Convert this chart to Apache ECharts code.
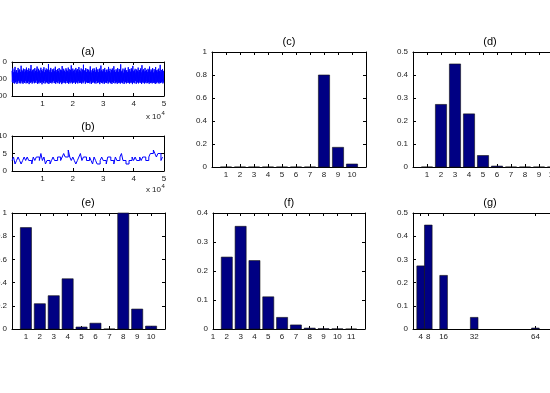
<!DOCTYPE html>
<html>
<head>
<meta charset="utf-8">
<script src="https://cdn.jsdelivr.net/npm/echarts@6/dist/echarts.min.js"></script>
<style>
html, body { margin: 0; padding: 0; background: #fff; }
#container { width: 550px; height: 393px; }
</style>
</head>
<body>
<div id="container"></div>
<script>
// (a) raw signal: alternating local peaks and troughs, one pair every 250 samples
var signalAPeaks = [52, 38, 61, 45, 29, 57, 48, 63, 35, 50, 44, 58, 22, 47, 55, 39, 60, 42, 51, 33,
  46, 59, 37, 54, 41, 18, 56, 49, 43, 62, 36, 53, 45, 27, 58, 40, 50, 64, 34, 47,
  55, 42, 31, 60, 48, 38, 52, 44, 12, 57, 46, 35, 61, 43, 50, 39, 55, 28, 47, 58,
  41, 53, 36, 62, 45, 49, 24, 56, 40, 51, 59, 37, 46, 54, 33, 60, 43, 48, 20, 57,
  39, 52, 45, 63, 35, 50, 42, 58, 30, 47, 55, 38, 61, 44, 16, 53, 48, 36, 59, 41,
  50, 45, 57, 26, 49, 62, 40, 54, 37, 46, 58, 32, 51, 43, 60, 39, 55, 21, 48, 56,
  42, 50, 35, 61, 47, 44, 57, 29, 53, 40, 62, 46, 38, 55, 25, 49, 59, 43, 52, 36,
  58, 41, 47, 14, 56, 50, 39, 63, 45, 34, 54, 48, 60, 31, 51, 42, 57, 37, 46, 23,
  55, 49, 40, 62, 44, 52, 33, 58, 47, 38, 61, 19, 50, 43, 56, 35, 53, 46, 59, 40,
  48, 27, 57, 44, 51, 36, 62, 42, 55, 30, 49, 58, 45, 39, 54, 17, 60, 47, 41, 52]
var signalATroughs = [118, 124, 112, 127, 120, 115, 129, 121, 110, 125, 119, 126, 113, 122, 128, 117, 123, 111, 126, 120,
  124, 114, 130, 119, 122, 116, 127, 121, 113, 125, 118, 123, 109, 128, 120, 126, 115, 122, 119, 131,
  117, 124, 112, 127, 121, 118, 125, 114, 129, 120, 123, 116, 126, 119, 111, 124, 122, 128, 117, 121,
  125, 113, 127, 120, 118, 130, 122, 115, 124, 119, 126, 112, 123, 121, 128, 117, 125, 114, 120, 127,
  119, 123, 116, 129, 121, 118, 126, 113, 124, 120, 122, 127, 115, 125, 119, 110, 128, 121, 117, 124,
  123, 118, 126, 114, 129, 120, 122, 116, 125, 119, 127, 112, 124, 121, 118, 130, 117, 123, 120, 126,
  115, 128, 122, 119, 124, 113, 127, 121, 116, 125, 120, 129, 118, 123, 111, 126, 122, 119, 128, 115,
  124, 120, 127, 117, 122, 125, 114, 129, 121, 118, 126, 113, 123, 120, 127, 116, 124, 119, 130, 122,
  117, 125, 112, 128, 121, 119, 126, 115, 123, 120, 129, 118, 124, 116, 127, 121, 113, 125, 122, 119,
  128, 117, 124, 120, 126, 114, 123, 121, 129, 118, 125, 116, 122, 127, 119, 124, 120, 113, 126, 121]
var stepA = 125

// (b) quantised signal, one value every 500 samples
var signalB = [3, 4, 2, 3, 4, 3, 2, 3, 4, 3, 4, 3, 3, 2, 4, 3, 4, 4, 3, 5,
  3, 4, 2, 3, 3, 2, 3, 4, 3, 3, 4, 4, 3, 4, 5, 4, 4, 6, 4, 3,
  4, 3, 2, 3, 4, 5, 3, 4, 4, 3, 3, 4, 3, 2, 4, 3, 2, 2, 3, 4,
  3, 3, 2, 4, 4, 3, 3, 2, 4, 3, 3, 4, 5, 3, 3, 2, 2, 3, 3, 4,
  3, 4, 3, 3, 4, 3, 4, 4, 3, 3, 4, 5, 5, 6, 5, 4, 5, 5, 3, 4]
var stepB = 500

var cCats = [1, 2, 3, 4, 5, 6, 7, 8, 9, 10]
var cVals = [0, 0, 0, 0, 0, 0, 0, 0.8, 0.171, 0.026]
var dCats = [1, 2, 3, 4, 5, 6, 7, 8, 9, 10]
var dVals = [0, 0.272, 0.448, 0.231, 0.05, 0.004, 0, 0, 0, 0]
var eCats = [1, 2, 3, 4, 5, 6, 7, 8, 9, 10]
var eVals = [0.874, 0.218, 0.287, 0.433, 0.017, 0.05, 0, 1.0, 0.172, 0.025]
var fCats = [2, 3, 4, 5, 6, 7, 8, 9, 10, 11]
var fVals = [0.248, 0.354, 0.236, 0.111, 0.04, 0.014, 0.003, 0.001, 0.0005, 0]
var gCats = [4, 8, 16, 32, 64]
var gVals = [0.272, 0.448, 0.231, 0.05, 0.004]
var gTicks = [4, 8, 16, 32, 64]

var FONT = 'Liberation Sans'
var dom = document.getElementById('container')
var myChart = echarts.init(dom, null, { renderer: 'canvas' })

var boxes = [
  { left: 12, top: 62, width: 152, height: 34 },    // a
  { left: 12, top: 136, width: 152, height: 35 },   // b
  { left: 212, top: 52, width: 154, height: 115 },  // c
  { left: 413, top: 52, width: 154, height: 115 },  // d
  { left: 12, top: 213, width: 153, height: 116 },  // e
  { left: 213, top: 213, width: 152, height: 116 }, // f
  { left: 413, top: 213, width: 153, height: 116 }  // g
]

function hideEnds(lo, hi) {
  return function(v) { return (v < lo || v > hi) ? '' : String(v) }
}
function perTenK(v) { return v === 0 ? '' : String(v / 10000) }

var xSpecs = [
  { min: 0, max: 50000, interval: 10000, fmt: perTenK },
  { min: 0, max: 50000, interval: 10000, fmt: perTenK },
  { min: 0, max: 11, interval: 1, fmt: hideEnds(1, 10) },
  { min: 0, max: 11, interval: 1, fmt: hideEnds(1, 10) },
  { min: 0, max: 11, interval: 1, fmt: hideEnds(1, 10) },
  { min: 1, max: 12, interval: 1, fmt: hideEnds(1, 11) },
  { min: 0, max: 80, custom: gTicks }
]
var ySpecs = [
  { min: 0, max: 200, interval: 100, inverse: true },
  { min: 0, max: 10, interval: 5 },
  { min: 0, max: 1, interval: 0.2 },
  { min: 0, max: 0.5, interval: 0.1 },
  { min: 0, max: 1, interval: 0.2 },
  { min: 0, max: 0.4, interval: 0.1 },
  { min: 0, max: 0.5, interval: 0.1 }
]

var grid = [], xAxis = [], yAxis = []
boxes.forEach(function(b, k) {
  grid.push({ left: b.left, top: b.top, width: b.width, height: b.height, containLabel: false, outerBoundsMode: 'none' })
  var xs = xSpecs[k], ys = ySpecs[k]
  ;['bottom', 'top'].forEach(function(pos) {
    var ax = {
      type: 'value', gridIndex: k, position: pos, min: xs.min, max: xs.max,
      splitLine: { show: false },
      axisLine: { show: true, onZero: false, lineStyle: { color: '#000', width: 1 } },
      axisTick: { show: true, inside: true, length: 3, lineStyle: { color: '#000', width: 1 } },
      axisLabel: { show: pos === 'bottom', color: '#222', fontSize: 8, fontFamily: FONT, margin: 4, showMinLabel: true, showMaxLabel: true, hideOverlap: false }
    }
    if (xs.custom) {
      ax.axisTick.customValues = xs.custom
      ax.axisLabel.customValues = xs.custom
    } else {
      ax.interval = xs.interval
      ax.axisLabel.formatter = xs.fmt
    }
    xAxis.push(ax)
  })
  ;['left', 'right'].forEach(function(pos) {
    yAxis.push({
      type: 'value', gridIndex: k, position: pos, min: ys.min, max: ys.max, interval: ys.interval,
      inverse: !!ys.inverse,
      splitLine: { show: false },
      axisLine: { show: true, onZero: false, lineStyle: { color: '#000', width: 1 } },
      axisTick: { show: true, inside: true, length: 3, lineStyle: { color: '#000', width: 1 } },
      axisLabel: { show: pos === 'left', color: '#222', fontSize: 8, fontFamily: FONT, margin: 5, showMinLabel: true, showMaxLabel: true, hideOverlap: false }
    })
  })
})

// interleave peaks and troughs of (a)
var signalA = []
signalAPeaks.forEach(function(p, i) {
  signalA.push(p)
  signalA.push(signalATroughs[i])
})

function lineSeries(k, vals, step, isStep, width) {
  return {
    type: 'line', xAxisIndex: 2 * k, yAxisIndex: 2 * k,
    data: vals.map(function(v, i) { return [i * step, v] }),
    showSymbol: false, step: isStep ? 'end' : false, sampling: null,
    lineStyle: { color: '#0000ff', width: width },
    silent: true
  }
}

function barSeries(k, cats, vals, w) {
  return {
    type: 'custom', xAxisIndex: 2 * k, yAxisIndex: 2 * k,
    data: cats.map(function(c, i) { return [c, vals[i]] }),
    renderItem: function(params, api) {
      var x = api.value(0), y = api.value(1)
      var p0 = api.coord([x - w / 2, y])
      var p1 = api.coord([x + w / 2, 0])
      return {
        type: 'rect',
        shape: { x: p0[0], y: p0[1], width: p1[0] - p0[0], height: p1[1] - p0[1] },
        style: { fill: '#000083', stroke: '#111', lineWidth: 0.6 }
      }
    },
    silent: true
  }
}

var titles = [['(a)', 88, 52], ['(b)', 88, 127], ['(c)', 289, 42], ['(d)', 490, 42],
  ['(e)', 88, 203], ['(f)', 289, 203], ['(g)', 490, 203]]
var graphic = titles.map(function(t) {
  return { type: 'text', x: t[1], y: t[2], style: { text: t[0], textAlign: 'center', textVerticalAlign: 'middle', font: '11px ' + FONT, fill: '#000' } }
})
;[117, 190].forEach(function(yy) {
  graphic.push({ type: 'text', x: 161, y: yy, style: { text: 'x 10', textAlign: 'right', textVerticalAlign: 'middle', font: '8px ' + FONT, fill: '#222' } })
  graphic.push({ type: 'text', x: 161.5, y: yy - 4, style: { text: '4', textAlign: 'left', textVerticalAlign: 'middle', font: '6px ' + FONT, fill: '#222' } })
})

option = {
  backgroundColor: '#fff',
  animation: false,
  grid: grid,
  xAxis: xAxis,
  yAxis: yAxis,
  graphic: graphic,
  series: [
    lineSeries(0, signalA, stepA, false, 1),
    lineSeries(1, signalB, stepB, true, 1),
    barSeries(2, cCats, cVals, 0.8),
    barSeries(3, dCats, dVals, 0.8),
    barSeries(4, eCats, eVals, 0.8),
    barSeries(5, fCats, fVals, 0.8),
    barSeries(6, gCats, gVals, 4)
  ]
}
myChart.setOption(option)
</script>
</body>
</html>
